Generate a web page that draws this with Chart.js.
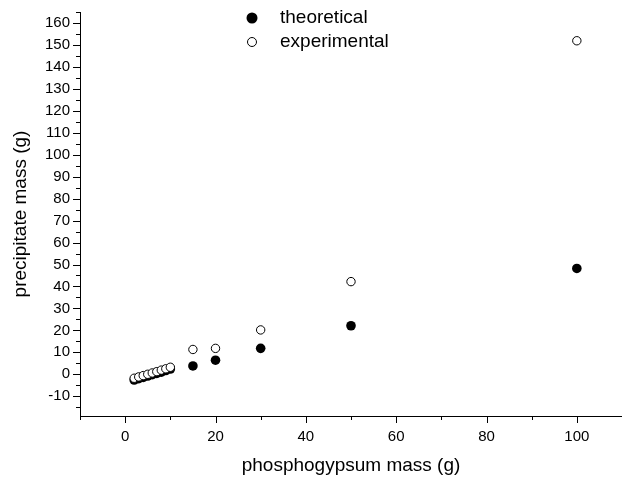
<!DOCTYPE html>
<html>
<head>
<meta charset="utf-8">
<script src="https://cdn.jsdelivr.net/npm/chart.js@4"></script>
<style>
  html, body { margin: 0; padding: 0; background: #fff; }
  #wrap { width: 622px; height: 477px; }
</style>
</head>
<body>
<div id="wrap"><canvas id="c" width="622" height="477"></canvas></div>
<script>
// Precipitate mass vs phosphogypsum mass — theoretical (filled) vs experimental (open).

const xTheo = [2, 3, 4, 5, 6, 7, 8, 9, 10, 15, 20, 30, 50, 100];
const yTheo = [-2.6, -2.0, -1.4, -0.8, -0.2, 0.4, 1.0, 1.7, 2.4, 3.8, 6.4, 11.8, 22.1, 48.2];
const xExp = [2, 3, 4, 5, 6, 7, 8, 9, 10, 15, 20, 30, 50, 100];
const yExp = [-1.8, -1.2, -0.6, 0.0, 0.6, 1.2, 1.9, 2.5, 3.2, 11.3, 11.8, 20.2, 42.2, 151.9];

const xTicks = [-10, 0, 10, 20, 30, 40, 50, 60, 70, 80, 90, 100, 110];
const xLabels = [0, 20, 40, 60, 80, 100];
const yTicks = [-15, -10, -5, 0, 5, 10, 15, 20, 25, 30, 35, 40, 45, 50, 55, 60, 65, 70, 75, 80,
  85, 90, 95, 100, 105, 110, 115, 120, 125, 130, 135, 140, 145, 150, 155, 160, 165];
const yLabels = [-10, 0, 10, 20, 30, 40, 50, 60, 70, 80, 90, 100, 110, 120, 130, 140, 150, 160];

const FONT = "'Liberation Sans', Arial, sans-serif";

const pts = (xs, ys) => xs.map((x, i) => ({ x, y: ys[i] }));

// tick marks: long on labelled values, short on the in-between ones
const tickMarks = {
  id: "tickMarks",
  afterDraw(chart) {
    const { ctx, chartArea: a, scales: { x, y } } = chart;
    ctx.save();
    ctx.strokeStyle = "#000";
    ctx.lineWidth = 1;
    ctx.beginPath();
    xTicks.forEach((v) => {
      const px = Math.round(x.getPixelForValue(v)) + 0.5;
      const len = xLabels.includes(v) ? 7 : 4;
      ctx.moveTo(px, a.bottom);
      ctx.lineTo(px, a.bottom + len);
    });
    yTicks.forEach((v) => {
      const py = Math.round(y.getPixelForValue(v)) + 0.5;
      const len = yLabels.includes(v) ? 7 : 4;
      ctx.moveTo(a.left, py);
      ctx.lineTo(a.left - len, py);
    });
    ctx.stroke();
    ctx.restore();
  },
};

// legend inside the plot, top middle
const legendBox = {
  id: "legendBox",
  afterDraw(chart) {
    const { ctx } = chart;
    ctx.save();
    ctx.font = "19px " + FONT;
    ctx.fillStyle = "#000";
    ctx.textBaseline = "middle";
    ctx.beginPath();
    ctx.arc(252, 18, 5.5, 0, Math.PI * 2);
    ctx.fill();
    ctx.fillText("theoretical", 280, 18);
    ctx.beginPath();
    ctx.arc(252, 42, 4.5, 0, Math.PI * 2);
    ctx.fillStyle = "#fff";
    ctx.fill();
    ctx.strokeStyle = "#000";
    ctx.lineWidth = 1;
    ctx.stroke();
    ctx.fillStyle = "#000";
    ctx.fillText("experimental", 280, 42);
    ctx.restore();
  },
};

new Chart(document.getElementById("c"), {
  type: "scatter",
  data: {
    datasets: [
      {
        label: "theoretical", data: pts(xTheo, yTheo), order: 1,
        pointRadius: 4.8, pointBackgroundColor: "#000", pointBorderColor: "#000", pointBorderWidth: 0,
      },
      {
        label: "experimental", data: pts(xExp, yExp), order: 0,
        pointRadius: 4.2, pointBackgroundColor: "#fff", pointBorderColor: "#000", pointBorderWidth: 1,
      },
    ],
  },
  options: {
    responsive: false,
    animation: false,
    layout: { autoPadding: false, padding: { top: 12, right: 0, left: 0, bottom: 0 } },
    plugins: { legend: { display: false }, tooltip: { enabled: false } },
    scales: {
      x: {
        type: "linear", min: -10, max: 110,
        grid: { display: false, drawTicks: false },
        border: { display: true, color: "#000", width: 1 },
        afterBuildTicks: (s) => { s.ticks = xTicks.map((v) => ({ value: v })); },
        afterFit: (s) => { s.height = 61; s.paddingLeft = 0; s.paddingRight = 0; },
        ticks: {
          color: "#000", font: { family: FONT, size: 15 }, padding: 12,
          autoSkip: false, maxRotation: 0,
          callback: (v) => (xLabels.includes(v) ? String(v) : ""),
        },
        title: {
          display: true, text: "phosphogypsum mass (g)", color: "#000",
          font: { family: FONT, size: 19 }, padding: { top: 0, bottom: 0 },
        },
      },
      y: {
        type: "linear", min: -19, max: 165,
        grid: { display: false, drawTicks: false },
        border: { display: true, color: "#000", width: 1 },
        afterBuildTicks: (s) => { s.ticks = yTicks.map((v) => ({ value: v })); },
        afterFit: (s) => { s.width = 80; s.paddingTop = 0; s.paddingBottom = 0; },
        ticks: {
          color: "#000", font: { family: FONT, size: 15 }, padding: 10,
          autoSkip: false,
          callback: (v) => (yLabels.includes(v) ? String(v) : ""),
        },
        title: {
          display: true, text: "precipitate mass (g)", color: "#000",
          font: { family: FONT, size: 19 }, padding: { top: 9, bottom: 0 },
        },
      },
    },
  },
  plugins: [tickMarks, legendBox],
});
</script>
</body>
</html>
